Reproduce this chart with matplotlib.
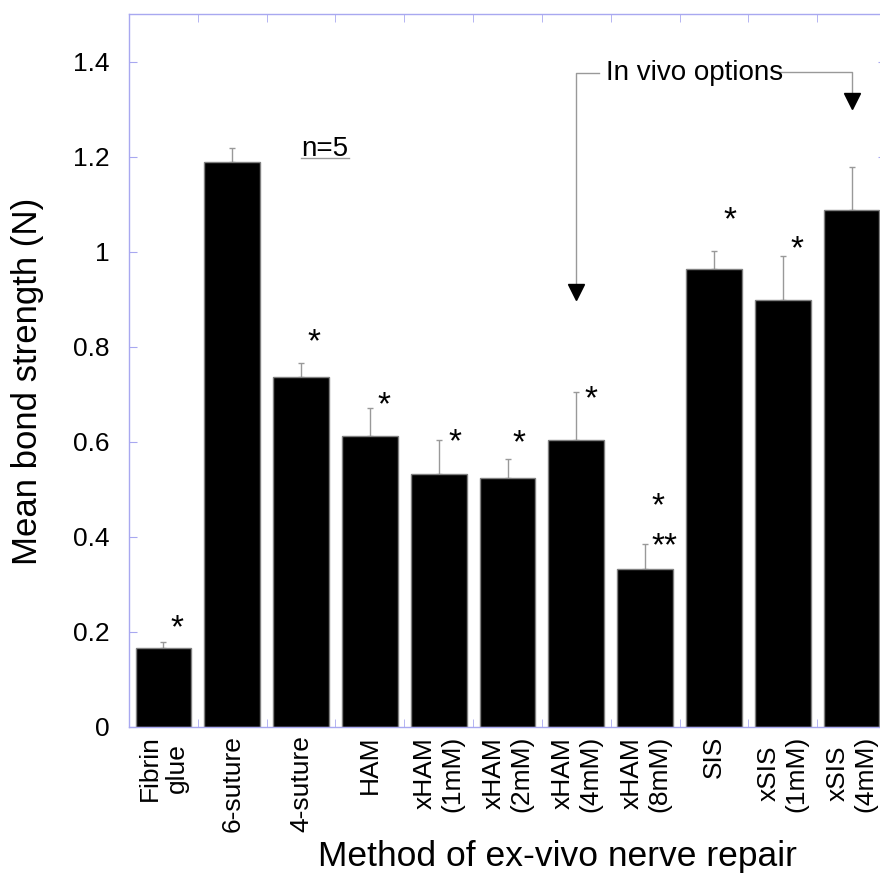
import numpy as np
import matplotlib
matplotlib.use("Agg")
import matplotlib.pyplot as plt

plt.rcParams['font.family'] = ['Liberation Sans', 'DejaVu Sans']

# data
methods = ['Fibrin\nglue', '6-suture', '4-suture', 'HAM', 'xHAM\n(1mM)', 'xHAM\n(2mM)',
           'xHAM\n(4mM)', 'xHAM\n(8mM)', 'SIS', 'xSIS\n(1mM)', 'xSIS\n(4mM)']
strength = [0.167, 1.188, 0.737, 0.613, 0.533, 0.523, 0.604, 0.333, 0.963, 0.899, 1.088]
err_top = [0.178, 1.219, 0.766, 0.672, 0.604, 0.563, 0.704, 0.384, 1.002, 0.990, 1.179]

# significance marks (category position, height, symbol)
star_x = [0.2, 2.19, 3.21, 4.23, 5.16, 6.21, 7.18, 7.28, 8.24, 9.21]
star_y = [0.227, 0.828, 0.696, 0.619, 0.616, 0.708, 0.483, 0.400, 1.085, 1.024]
star_txt = ['*', '*', '*', '*', '*', '*', '*', '**', '*', '*']

spine_col = '#a8a8f0'
grey = '#999999'

fig = plt.figure(figsize=(8.8, 8.73), dpi=100)
ax = fig.add_axes([129 / 880, 146 / 873, 757 / 880, 713 / 873])

x = np.arange(len(methods))
yerr = [np.zeros(len(strength)), np.array(err_top) - np.array(strength)]
ax.bar(x, strength, width=0.81, color='black', edgecolor='#808080', linewidth=1, zorder=2)
ax.errorbar(x, strength, yerr=yerr, fmt='none', ecolor=grey, elinewidth=1,
            capsize=2.5, capthick=1, zorder=1)

for sx, sy, s in zip(star_x, star_y, star_txt):
    ax.annotate(s, (sx, sy), xytext=(0, -7), textcoords='offset points',
                ha='center', va='center', fontsize=24)

# n=5 with underline
ax.text(2.34, 1.217, 'n=5', ha='center', va='center', fontsize=20)
ax.plot([2.0, 2.7], [1.198, 1.198], color=grey, lw=1)

# In vivo options bracket
ax.text(7.72, 1.375, 'In vivo options', ha='center', va='center', fontsize=20)
ax.plot([6.33, 6.0, 6.0], [1.375, 1.375, 0.93], color=grey, lw=1)
ax.plot([8.93, 10.0, 10.0], [1.378, 1.378, 1.33], color=grey, lw=1)
ax.plot([6.0], [0.915], marker='v', color='black', markersize=11)
ax.plot([10.0], [1.318], marker='v', color='black', markersize=11)

ax.set_xlim(-0.5, 10.5)
ax.set_ylim(0, 1.5)

ax.set_yticks(np.arange(0, 1.41, 0.2))
ax.set_yticklabels(['0', '0.2', '0.4', '0.6', '0.8', '1', '1.2', '1.4'])
ax.set_xticks(x)
ax.set_xticklabels(methods, rotation=90, va='top', ha='center', multialignment='center')
ax.set_xticks(np.arange(0.5, 10, 1), minor=True)

for sp in ax.spines.values():
    sp.set_color(spine_col)
    sp.set_linewidth(1)

ax.tick_params(axis='x', which='major', length=0, pad=6, labelsize=19)
ax.tick_params(axis='x', which='minor', direction='in', length=6, color=spine_col,
               top=True, bottom=True)
ax.tick_params(axis='y', direction='in', length=6, color=spine_col, right=True,
               labelsize=19, pad=14)

ax.set_ylabel('Mean bond strength (N)', fontsize=25)
ax.yaxis.set_label_coords(-0.112, 0.485)
ax.set_xlabel('Method of ex-vivo nerve repair', fontsize=25.5)
ax.xaxis.set_label_coords(0.566, -0.158)

fig.savefig('out.png', dpi=100)
